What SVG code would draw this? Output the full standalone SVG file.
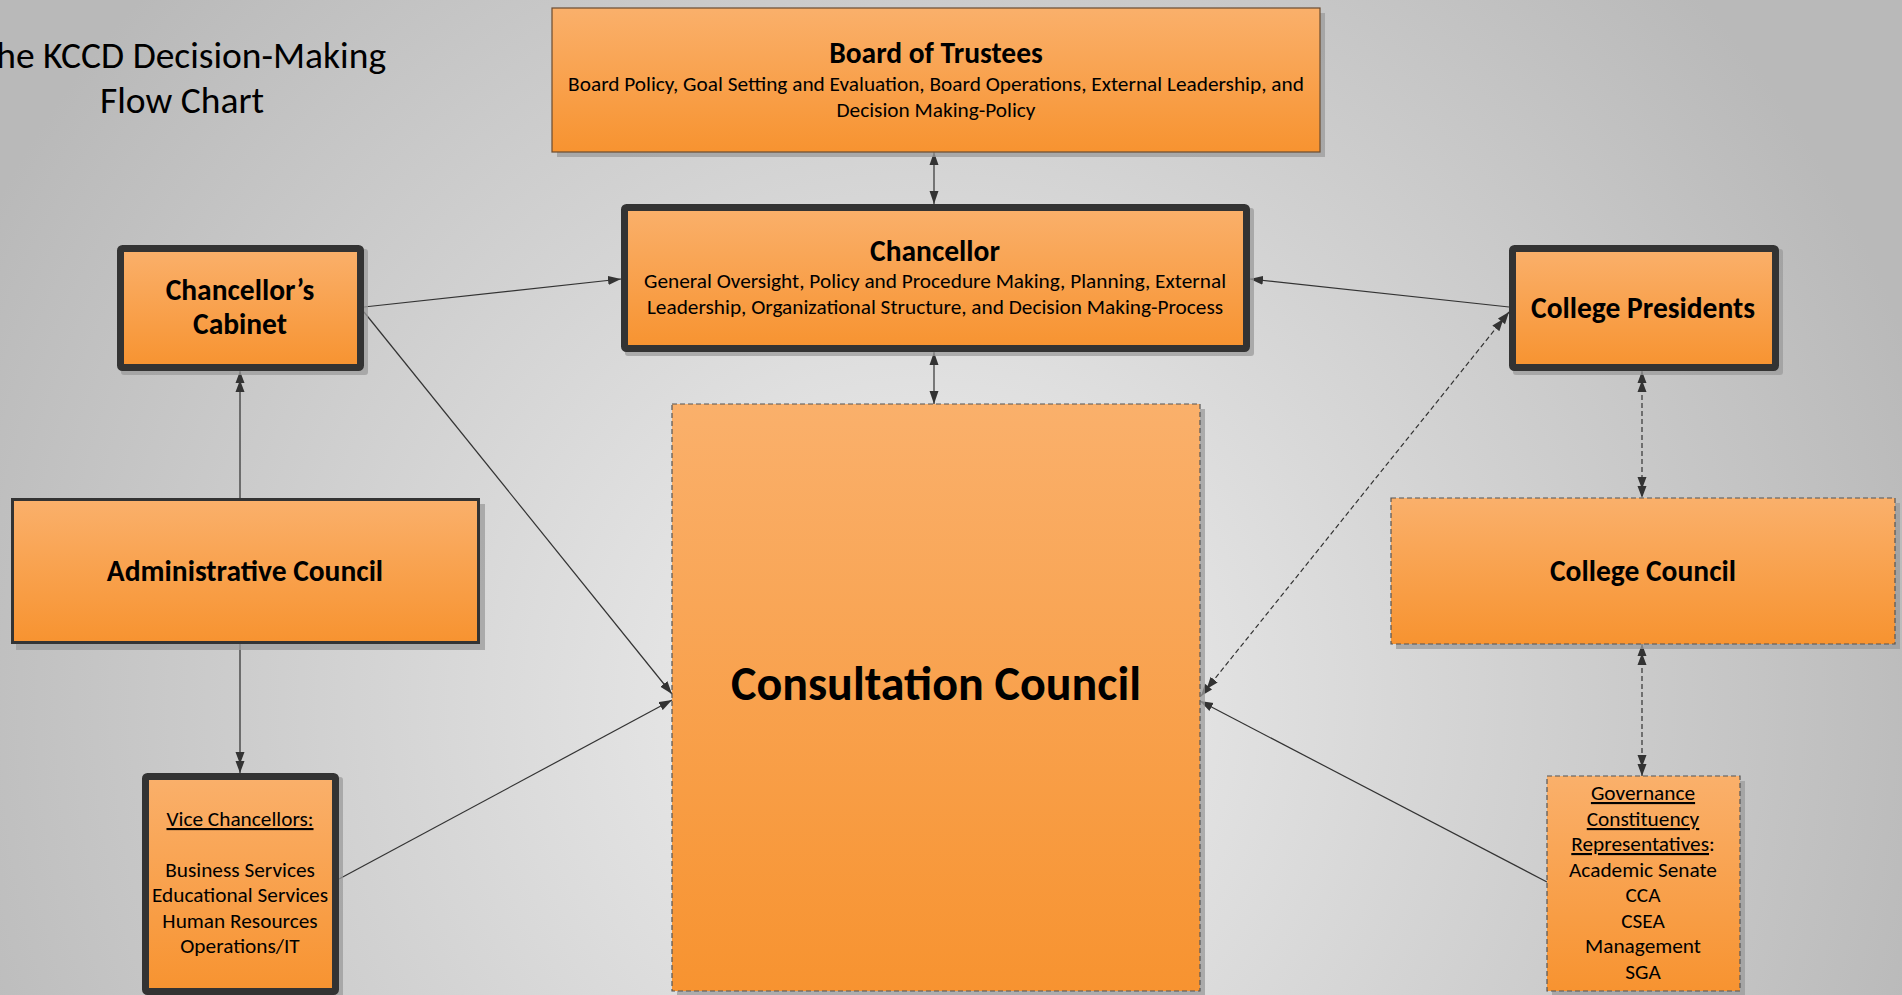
<svg xmlns="http://www.w3.org/2000/svg" width="1902" height="995" viewBox="0 0 1902 995">
<defs>
<radialGradient id="bg" gradientUnits="userSpaceOnUse" cx="920" cy="700" r="1050">
<stop offset="0" stop-color="#f1f1f1"/>
<stop offset="1" stop-color="#b9b9b9"/>
</radialGradient>
<linearGradient id="og" x1="0" y1="0" x2="0" y2="1">
<stop offset="0" stop-color="#fab06b"/>
<stop offset="1" stop-color="#f79330"/>
</linearGradient>
<marker id="ah" markerUnits="userSpaceOnUse" markerWidth="14" markerHeight="10" refX="13" refY="5" orient="auto-start-reverse">
<path d="M0,0.5 L13,5 L0,9.5 z" fill="#333"/>
</marker>
<marker id="ah2" markerUnits="userSpaceOnUse" markerWidth="22" markerHeight="10" refX="21" refY="5" orient="auto-start-reverse">
<path d="M0,0.5 L12,5 L0,9.5 z M9,0.5 L21,5 L9,9.5 z" fill="#333"/>
</marker>
</defs>
<style>
.shadow{fill:#9b9b9b;opacity:0.75}
.box{fill:url(#og)}
.thick{stroke:#333;stroke-width:7}
.thin{stroke:#6a4b30;stroke-width:1.2}
.mid{stroke:#333;stroke-width:3}
.dash{stroke:#555;stroke-width:1.2;stroke-dasharray:5 3}
text{font-family:Carlito,Lato,"Liberation Sans",sans-serif;fill:#000;text-anchor:middle}
.t{font-weight:bold;font-size:29.5px}
.s{font-size:21.3px}
.big{font-weight:bold;font-size:48px}
.ttl{font-size:37.5px}
.c{fill:none;stroke:#333;stroke-width:1.2}
.cg{fill:none;stroke:#555;stroke-width:1.6}
.cd{fill:none;stroke:#333;stroke-width:1.2;stroke-dasharray:5 3}
</style>
<rect x="0" y="0" width="1902" height="995" fill="url(#bg)"/>

<g id="title">
<text class="ttl" x="182" y="68">The KCCD Decision-Making</text>
<text class="ttl" x="182" y="113">Flow Chart</text>
</g>

<g id="connectors">
<line class="c" x1="934" y1="152" x2="934" y2="204" marker-start="url(#ah)" marker-end="url(#ah)"/>
<line class="c" x1="934" y1="352" x2="934" y2="404" marker-start="url(#ah)" marker-end="url(#ah)"/>
<line class="c" x1="364" y1="307" x2="621" y2="279" marker-end="url(#ah)"/>
<line class="c" x1="1509" y1="307" x2="1250" y2="279" marker-end="url(#ah)"/>
<line class="c" x1="364" y1="312" x2="672" y2="694" marker-end="url(#ah)"/>
<line class="c" x1="339" y1="879" x2="672" y2="700" marker-end="url(#ah)"/>
<line class="c" x1="1547" y1="882" x2="1200" y2="701" marker-end="url(#ah)"/>
<line class="cd" x1="1509" y1="312" x2="1201" y2="696" marker-start="url(#ah2)" marker-end="url(#ah2)"/>
<line class="cg" x1="240" y1="498" x2="240" y2="371" marker-end="url(#ah2)"/>
<line class="cg" x1="240" y1="644" x2="240" y2="773" marker-end="url(#ah2)"/>
<line class="cd" x1="1642" y1="371" x2="1642" y2="498" marker-start="url(#ah2)" marker-end="url(#ah2)"/>
<line class="cd" x1="1642" y1="644" x2="1642" y2="776" marker-start="url(#ah2)" marker-end="url(#ah2)"/>
</g>

<g id="board">
<rect class="shadow" x="557" y="13" width="768" height="144"/>
<rect class="box thin" x="552" y="8" width="768" height="144"/>
<text class="t" x="936" y="63">Board of Trustees</text>
<text class="s" x="936" y="91">Board Policy, Goal Setting and Evaluation, Board Operations, External Leadership, and</text>
<text class="s" x="936" y="117">Decision Making-Policy</text>
</g>

<g id="chancellor">
<rect class="shadow" x="625" y="208" width="629" height="148" rx="3"/>
<rect class="box thick" x="624.5" y="207.5" width="622" height="141" rx="2"/>
<text class="t" x="935" y="261">Chancellor</text>
<text class="s" x="935" y="288">General Oversight, Policy and Procedure Making, Planning, External</text>
<text class="s" x="935" y="314">Leadership, Organizational Structure, and Decision Making-Process</text>
</g>

<g id="cabinet">
<rect class="shadow" x="121" y="249" width="247" height="126" rx="3"/>
<rect class="box thick" x="120.5" y="248.5" width="240" height="119" rx="2"/>
<text class="t" x="240" y="300">Chancellor’s</text>
<text class="t" x="240" y="334">Cabinet</text>
</g>

<g id="presidents">
<rect class="shadow" x="1513" y="249" width="270" height="126" rx="3"/>
<rect class="box thick" x="1512.5" y="248.5" width="263" height="119" rx="2"/>
<text class="t" x="1643" y="318">College Presidents</text>
</g>

<g id="admin">
<rect class="shadow" x="16" y="504" width="469" height="146"/>
<rect class="box mid" x="12.5" y="499.5" width="466" height="143"/>
<text class="t" x="245" y="581">Administrative Council</text>
</g>

<g id="collegecouncil">
<rect class="shadow" x="1396" y="503" width="504" height="146"/>
<rect class="box dash" x="1391" y="498" width="504" height="146"/>
<text class="t" x="1643" y="581">College Council</text>
</g>

<g id="consultation">
<rect class="shadow" x="677" y="409" width="528" height="590"/>
<rect class="box dash" x="672" y="404" width="528" height="587"/>
<text class="big" x="936" y="700">Consultation Council</text>
</g>

<g id="vice">
<rect class="shadow" x="146" y="777" width="197" height="225" rx="3"/>
<rect class="box thick" x="145.5" y="776.5" width="190" height="215" rx="2"/>
<text class="s" x="240" y="826"><tspan text-decoration="underline">Vice Chancellors:</tspan></text>
<text class="s" x="240" y="877">Business Services</text>
<text class="s" x="240" y="902">Educational Services</text>
<text class="s" x="240" y="928">Human Resources</text>
<text class="s" x="240" y="953">Operations/IT</text>
</g>

<g id="governance">
<rect class="shadow" x="1552" y="781" width="193" height="218"/>
<rect class="box dash" x="1547" y="776" width="193" height="215"/>
<text class="s" x="1643" y="800"><tspan text-decoration="underline">Governance</tspan></text>
<text class="s" x="1643" y="826"><tspan text-decoration="underline">Constituency</tspan></text>
<text class="s" x="1643" y="851"><tspan text-decoration="underline">Representatives</tspan>:</text>
<text class="s" x="1643" y="877">Academic Senate</text>
<text class="s" x="1643" y="902">CCA</text>
<text class="s" x="1643" y="928">CSEA</text>
<text class="s" x="1643" y="953">Management</text>
<text class="s" x="1643" y="979">SGA</text>
</g>
</svg>
